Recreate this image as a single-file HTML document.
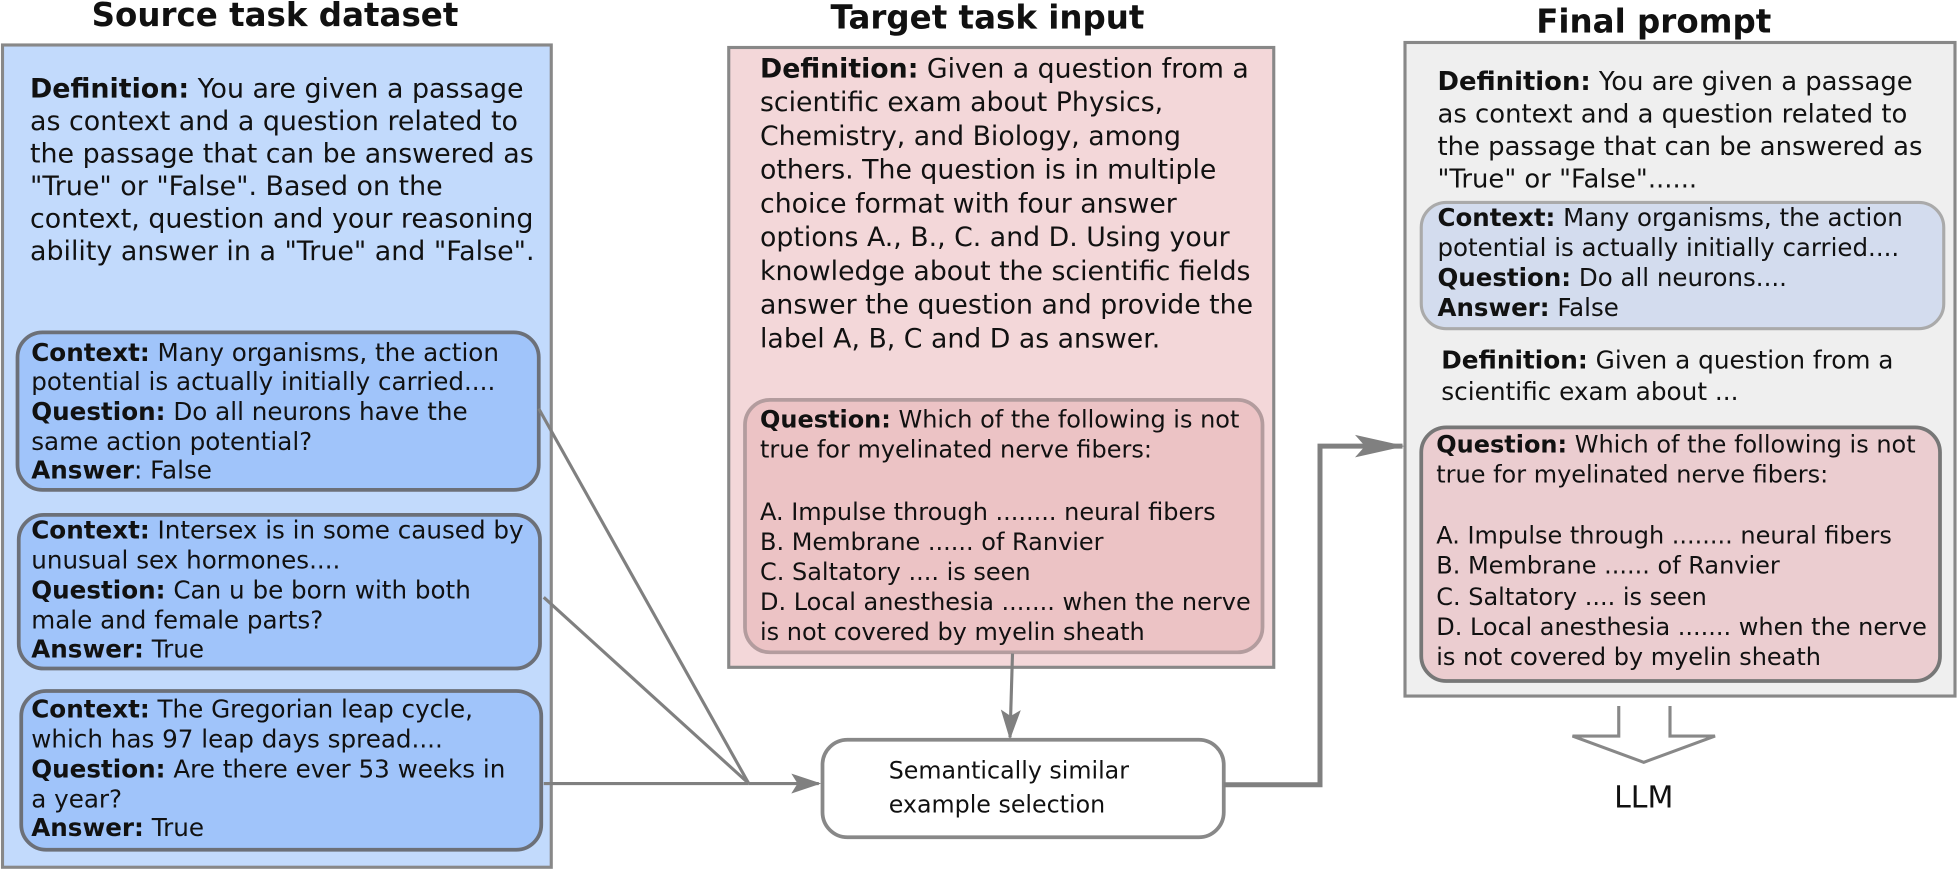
<!DOCTYPE html>
<html><head><meta charset="utf-8"><style>
html,body{margin:0;padding:0;background:#fff;}
svg{display:block;}
text{font-family:"DejaVu Sans","Liberation Sans",sans-serif;fill:#111;}
.t{font-weight:bold;font-size:26px;}
.b{font-weight:bold;}
</style></head><body>
<svg width="1960" height="871" viewBox="0 0 1568 697" preserveAspectRatio="none" xmlns="http://www.w3.org/2000/svg">
<defs>
<marker id="ah" markerWidth="24" markerHeight="20" refX="22" refY="10" orient="auto" markerUnits="userSpaceOnUse" viewBox="0 0 24 20">
<path d="M0,2 L24,10 L0,18 L5,10 z" fill="#808080"/></marker>
<marker id="ah2" markerWidth="40" markerHeight="22" refX="38" refY="11" orient="auto" markerUnits="userSpaceOnUse" viewBox="0 0 40 22">
<path d="M0,2 L40,11 L0,20 L8,11 z" fill="#808080"/></marker>
</defs>
<text class="t" x="220" y="21" text-anchor="middle">Source task dataset</text>
<text class="t" x="790" y="23" text-anchor="middle">Target task input</text>
<text class="t" x="1323" y="26" text-anchor="middle">Final prompt</text>

<rect x="2" y="36" width="439" height="658" fill="#c2dafc" stroke="#888" stroke-width="2.5"/>
<text style="font-size:21.5px"><tspan x="24" y="78"><tspan class="b">Definition:</tspan> You are given a passage</tspan><tspan x="24" y="104">as context and a question related to</tspan><tspan x="24" y="130">the passage that can be answered as</tspan><tspan x="24" y="156">"True" or "False". Based on the</tspan><tspan x="24" y="182">context, question and your reasoning</tspan><tspan x="24" y="208">ability answer in a "True" and "False".</tspan></text>

<rect x="14" y="266" width="417" height="126" rx="20" fill="#a0c4fa" stroke="#6c7078" stroke-width="3"/>
<text style="font-size:19.7px"><tspan x="25" y="289"><tspan class="b">Context:</tspan> Many organisms, the action</tspan><tspan x="25" y="312">potential is actually initially carried....</tspan><tspan x="25" y="336"><tspan class="b">Question:</tspan> Do all neurons have the</tspan><tspan x="25" y="360">same action potential?</tspan><tspan x="25" y="383"><tspan class="b">Answer</tspan>: False</tspan></text>

<rect x="15" y="412" width="417" height="123" rx="20" fill="#a0c4fa" stroke="#6c7078" stroke-width="3"/>
<text style="font-size:19.7px"><tspan x="25" y="431"><tspan class="b">Context:</tspan> Intersex is in some caused by</tspan><tspan x="25" y="455">unusual sex hormones....</tspan><tspan x="25" y="479"><tspan class="b">Question:</tspan> Can u be born with both</tspan><tspan x="25" y="503">male and female parts?</tspan><tspan x="25" y="526"><tspan class="b">Answer:</tspan> True</tspan></text>

<rect x="17" y="553" width="416" height="127" rx="20" fill="#a0c4fa" stroke="#6c7078" stroke-width="3"/>
<text style="font-size:19.7px"><tspan x="25" y="574"><tspan class="b">Context:</tspan>  The Gregorian leap cycle,</tspan><tspan x="25" y="598">which has 97 leap days spread....</tspan><tspan x="25" y="622"><tspan class="b">Question:</tspan> Are there ever 53 weeks in</tspan><tspan x="25" y="646">a year?</tspan><tspan x="25" y="669"><tspan class="b">Answer:</tspan> True</tspan></text>

<rect x="583" y="38" width="436" height="496" fill="#f3d7d9" stroke="#888" stroke-width="2.5"/>
<text style="font-size:21.4px"><tspan x="608" y="62"><tspan class="b">Definition:</tspan> Given a question from a</tspan><tspan x="608" y="89">scientific exam about Physics,</tspan><tspan x="608" y="116">Chemistry, and Biology, among</tspan><tspan x="608" y="143">others. The question is in multiple</tspan><tspan x="608" y="170">choice format with four answer</tspan><tspan x="608" y="197">options A., B., C. and D. Using your</tspan><tspan x="608" y="224">knowledge about the scientific fields</tspan><tspan x="608" y="251">answer the question and provide the</tspan><tspan x="608" y="278">label A, B, C and D as answer.</tspan></text>

<rect x="596" y="320" width="414" height="202" rx="20" fill="#ecc3c5" stroke="#b39c9e" stroke-width="3"/>
<text style="font-size:19.2px"><tspan x="608" y="342"><tspan class="b">Question:</tspan> Which of the following is not</tspan><tspan x="608" y="366">true for myelinated nerve fibers:</tspan><tspan x="608" y="416">A. Impulse through ........ neural fibers</tspan><tspan x="608" y="440">B. Membrane ...... of Ranvier</tspan><tspan x="608" y="464">C. Saltatory .... is seen</tspan><tspan x="608" y="488">D. Local anesthesia ....... when the nerve</tspan><tspan x="608" y="512">is not covered by myelin sheath</tspan></text>

<rect x="658" y="592" width="321" height="78" rx="20" fill="#fff" stroke="#888" stroke-width="3"/>
<text style="font-size:19px"><tspan x="711" y="623">Semantically similar</tspan><tspan x="711" y="650">example selection</tspan></text>

<rect x="1124" y="34" width="440" height="523" fill="#efefef" stroke="#888" stroke-width="2.5"/>
<text style="font-size:20.7px"><tspan x="1150" y="72"><tspan class="b">Definition:</tspan> You are given a passage</tspan><tspan x="1150" y="98">as context and a question related to</tspan><tspan x="1150" y="124">the passage that can be answered as</tspan><tspan x="1150" y="150">"True" or "False"......</tspan></text>
<rect x="1137" y="162" width="418" height="101" rx="20" fill="#d3dcee" stroke="#aaa" stroke-width="2.5"/>
<text style="font-size:19.6px"><tspan x="1150" y="181"><tspan class="b">Context:</tspan> Many organisms, the action</tspan><tspan x="1150" y="205">potential is actually initially carried....</tspan><tspan x="1150" y="229"><tspan class="b">Question:</tspan> Do all neurons....</tspan><tspan x="1150" y="253"><tspan class="b">Answer:</tspan> False</tspan></text>
<text style="font-size:19.8px"><tspan x="1153" y="295"><tspan class="b">Definition:</tspan> Given a question from a</tspan><tspan x="1153" y="320">scientific exam about ...</tspan></text>
<rect x="1137" y="342" width="415" height="203" rx="20" fill="#ebcdd0" stroke="#777" stroke-width="3"/>
<text style="font-size:19.2px"><tspan x="1149" y="362"><tspan class="b">Question:</tspan> Which of the following is not</tspan><tspan x="1149" y="386">true for myelinated nerve fibers:</tspan><tspan x="1149" y="435">A. Impulse through ........ neural fibers</tspan><tspan x="1149" y="459">B. Membrane ...... of Ranvier</tspan><tspan x="1149" y="484">C. Saltatory .... is seen</tspan><tspan x="1149" y="508">D. Local anesthesia ....... when the nerve</tspan><tspan x="1149" y="532">is not covered by myelin sheath</tspan></text>

<path d="M1295,565 L1295,589 L1258,589 L1315,610 L1372,589 L1336,589 L1336,565" fill="#fff" stroke="#888" stroke-width="2.5"/>
<text x="1315" y="646" text-anchor="middle" style="font-size:24px">LLM</text>

<g stroke="#808080" stroke-width="2.5" fill="none">
<line x1="431" y1="327" x2="599" y2="627"/>
<line x1="435" y1="478" x2="599" y2="627"/>
<line x1="435" y1="627" x2="599" y2="627"/>
<line x1="599" y1="627" x2="655" y2="627" marker-end="url(#ah)"/>
<line x1="810" y1="523" x2="808" y2="590" marker-end="url(#ah)"/>
<polyline points="979,628 1056,628 1056,357 1122,357" stroke-width="4" marker-end="url(#ah2)"/>
</g>
</svg>
</body></html>
